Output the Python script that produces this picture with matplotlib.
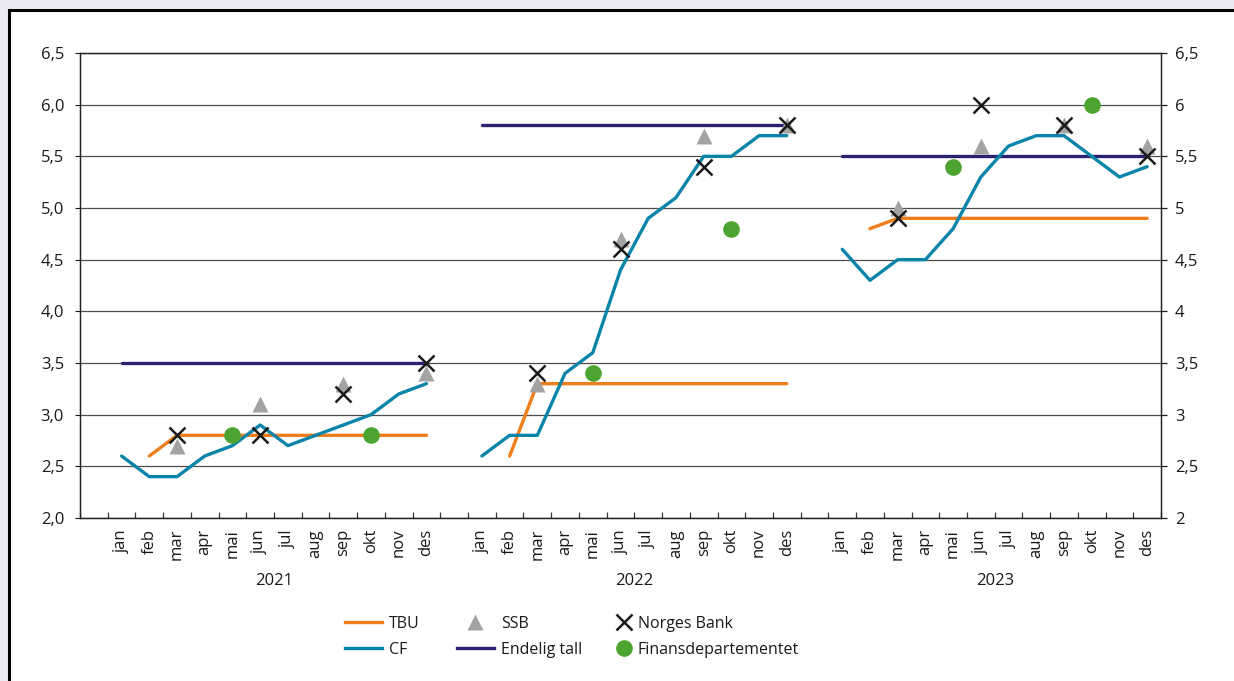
import numpy as np
import matplotlib
matplotlib.use('Agg')
from matplotlib import pyplot as plt
from matplotlib.patches import Rectangle
from matplotlib.lines import Line2D

plt.rcParams['font.family'] = ['Open Sans', 'DejaVu Sans']

# data
months = ['jan', 'feb', 'mar', 'apr', 'mai', 'jun', 'jul', 'aug', 'sep', 'okt', 'nov', 'des']
years = ['2021', '2022', '2023']

cf_2021 = [2.6, 2.4, 2.4, 2.6, 2.7, 2.9, 2.7, 2.8, 2.9, 3.0, 3.2, 3.3]
cf_2022 = [2.6, 2.8, 2.8, 3.4, 3.6, 4.4, 4.9, 5.1, 5.5, 5.5, 5.7, 5.7]
cf_2023 = [4.6, 4.3, 4.5, 4.5, 4.8, 5.3, 5.6, 5.7, 5.7, 5.5, 5.3, 5.4]

# TBU starts in feb
tbu_2021 = [np.nan, 2.6, 2.8, 2.8, 2.8, 2.8, 2.8, 2.8, 2.8, 2.8, 2.8, 2.8]
tbu_2022 = [np.nan, 2.6, 3.3, 3.3, 3.3, 3.3, 3.3, 3.3, 3.3, 3.3, 3.3, 3.3]
tbu_2023 = [np.nan, 4.8, 4.9, 4.9, 4.9, 4.9, 4.9, 4.9, 4.9, 4.9, 4.9, 4.9]

endelig = [3.5, 5.8, 5.5]

# forecasts in mar, jun, sep, des
ssb_months = [2, 5, 8, 11]
ssb_2021 = [2.7, 3.1, 3.3, 3.4]
ssb_2022 = [3.3, 4.7, 5.7, 5.8]
ssb_2023 = [5.0, 5.6, 5.8, 5.6]

nb_2021 = [2.8, 2.8, 3.2, 3.5]
nb_2022 = [3.4, 4.6, 5.4, 5.8]
nb_2023 = [4.9, 6.0, 5.8, 5.5]

# Finansdepartementet in mai and okt
fd_months = [4, 9]
fd_2021 = [2.8, 2.8]
fd_2022 = [3.4, 4.8]
fd_2023 = [5.4, 6.0]

cf = [cf_2021, cf_2022, cf_2023]
tbu = [tbu_2021, tbu_2022, tbu_2023]
ssb = [ssb_2021, ssb_2022, ssb_2023]
nb = [nb_2021, nb_2022, nb_2023]
fd = [fd_2021, fd_2022, fd_2023]

c_tbu = '#EE7D1B'
c_cf = '#0A84A8'
c_end = '#2A2270'
c_ssb = '#A3A3A3'
c_nb = '#1A1A1A'
c_fd = '#4EA431'

fig = plt.figure(figsize=(12.34, 6.81), dpi=100)
fig.patch.set_facecolor('#EBEBF5')
W, H = 1234, 681
# white panel with black border on left and top
fig.patches.append(Rectangle((9 / W, -0.1), 1.2, 1.1 - 10 / H, transform=fig.transFigure,
                             facecolor='white', edgecolor='black', lw=2.2, zorder=-10))

ax = fig.add_axes([80 / W, 1 - 518 / H, (1161 - 80) / W, (518 - 53) / H])
ax.set_facecolor('white')

# x positions: one empty slot before each year
def xpos(i):
    return np.arange(12) + 1 + i * 13

for i in range(3):
    x = xpos(i)
    ax.plot(x, [endelig[i]] * 12, color=c_end, lw=2.4, solid_capstyle='round', zorder=3)
    ax.plot(x, tbu[i], color=c_tbu, lw=2.4, solid_capstyle='round', zorder=3)
    ax.plot(x, cf[i], color=c_cf, lw=2.4, solid_capstyle='round', zorder=4)
    ax.plot(x[ssb_months], ssb[i], ls='none', marker='^', ms=11, color=c_ssb, mec='none', zorder=5)
    ax.plot(x[ssb_months], nb[i], ls='none', marker='x', ms=12, mew=1.8, color=c_nb, zorder=6)
    ax.plot(x[fd_months], fd[i], ls='none', marker='o', ms=12, color=c_fd, mec='none', zorder=5)

ax.set_xlim(-0.5, 38.5)
ax.set_ylim(2.0, 6.5)
yt = np.arange(2.0, 6.51, 0.5)
ax.set_yticks(yt)
ax.set_yticklabels([('%.1f' % v).replace('.', ',') for v in yt])
ax.yaxis.grid(True, color='#4d4d4d', lw=0.9)
ax.set_axisbelow(True)
ax.tick_params(axis='y', left=False, labelsize=12, pad=8, colors='#1a1a1a')

# right axis labels
ax2 = ax.twinx()
ax2.set_ylim(2.0, 6.5)
ax2.set_yticks(yt)
ax2.set_yticklabels([('%g' % v).replace('.', ',') for v in yt])
ax2.tick_params(axis='y', length=4, width=0.9, labelsize=12, pad=6, colors='#1a1a1a')

xt = np.concatenate([xpos(i) for i in range(3)])
ax.set_xticks(xt)
ax.set_xticklabels(months * 3, rotation=90)
ax.set_xticks(np.arange(-0.5, 38.6, 1), minor=True)
ax.tick_params(axis='x', which='major', length=0, labelsize=12, pad=8, colors='#1a1a1a')
ax.tick_params(axis='x', which='minor', direction='in', length=4, width=0.9, color='#333333')

for a in (ax, ax2):
    for s in a.spines.values():
        s.set_linewidth(0.9)
        s.set_color('#222222')

for i in range(3):
    ax.text(xpos(i).mean(), -0.135, years[i], transform=ax.get_xaxis_transform(),
            ha='center', va='center', fontsize=12, color='#1a1a1a')

# legend in three columns
def lg(handles, labels, x, hl, htp):
    leg = fig.legend(handles, labels, loc='upper left', bbox_to_anchor=(x / W, 1 - 616 / H),
                     frameon=False, fontsize=11.5, handlelength=hl, handletextpad=htp,
                     borderpad=0, borderaxespad=0, labelspacing=0.6)
    for t in leg.get_texts():
        t.set_color('#1a1a1a')

lg([Line2D([], [], color=c_tbu, lw=2.4), Line2D([], [], color=c_cf, lw=2.4)],
   ['TBU', 'CF'], 345, 2.3, 0.45)
lg([Line2D([], [], ls='none', marker='^', ms=11, color=c_ssb, mec='none'),
    Line2D([], [], color=c_end, lw=2.4)],
   ['SSB', 'Endelig tall'], 457, 2.3, 0.45)
lg([Line2D([], [], ls='none', marker='x', ms=12, mew=1.8, color=c_nb),
    Line2D([], [], ls='none', marker='o', ms=12, color=c_fd, mec='none')],
   ['Norges Bank', 'Finansdepartementet'], 616, 1.0, 0.35)

fig.savefig('out.png', dpi=100, facecolor=fig.get_facecolor())
